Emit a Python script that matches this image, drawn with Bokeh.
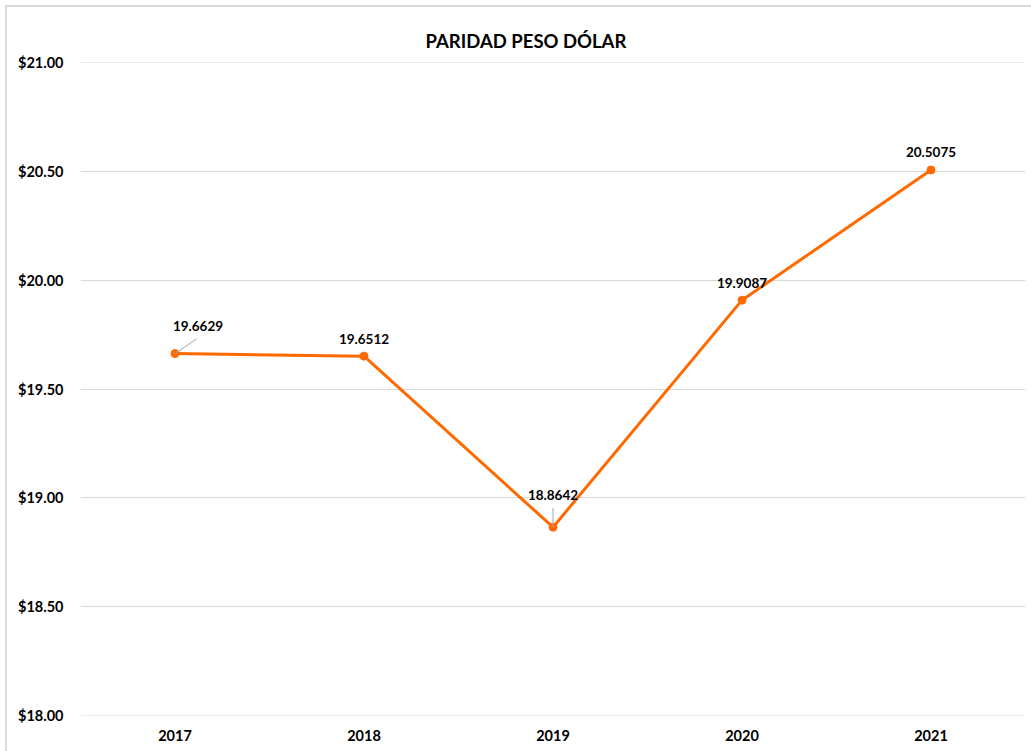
from bokeh.plotting import figure
from bokeh.models import Range1d, FixedTicker, ColumnDataSource
from bokeh.embed import file_html
from bokeh.resources import INLINE
from bokeh.core.properties import value

years = ["2017", "2018", "2019", "2020", "2021"]
rates = [19.6629, 19.6512, 18.8642, 19.9087, 20.5075]
rate_labels = ["19.6629", "19.6512", "18.8642", "19.9087", "20.5075"]
y_ticks = [18.0, 18.5, 19.0, 19.5, 20.0, 20.5, 21.0]

FONT = "Lato"
ORANGE = "#FF6A00"

idx = list(range(len(years)))

p = figure(width=1031, height=751, output_backend="svg", toolbar_location=None,
           x_range=Range1d(-0.5, len(years) - 0.5), y_range=Range1d(17.998, 21.002),
           min_border_left=80, min_border_right=6, min_border_top=62, min_border_bottom=36)

# faint chart border (top and left edges) drawn as page background behind a transparent border area
p.border_fill_alpha = 0
p.styles = {
    "background": "linear-gradient(#d9d9d9, #d9d9d9) 5px 5px / 1026px 2px no-repeat, "
                  "linear-gradient(#d9d9d9, #d9d9d9) 5px 5px / 2px 746px no-repeat, white"
}

p.title.text = "PARIDAD PESO DÓLAR"
p.title.align = "left"
p.title.offset = 345
p.title.standoff = 22
p.title.text_font = FONT
p.title.text_font_size = "18.5px"
p.title.text_font_style = "bold"
p.title.text_color = "#000000"

p.outline_line_color = None
p.background_fill_color = "white"

p.xgrid.grid_line_color = None
p.ygrid.grid_line_color = "#d9d9d9"
p.ygrid.grid_line_width = 1

p.yaxis.ticker = FixedTicker(ticks=y_ticks)
p.yaxis.major_label_overrides = {t: "${:.2f}".format(t) for t in y_ticks}
p.xaxis.ticker = FixedTicker(ticks=idx)
p.xaxis.major_label_overrides = {i: y for i, y in zip(idx, years)}

for ax in (p.xaxis, p.yaxis):
    ax.axis_line_color = None
    ax.major_tick_line_color = None
    ax.minor_tick_line_color = None
    ax.major_tick_out = 0
    ax.major_tick_in = 0
    ax.major_label_text_font = FONT
    ax.major_label_text_font_style = "bold"
    ax.major_label_text_font_size = "14.5px"
    ax.major_label_text_color = "#000000"
p.yaxis.major_label_standoff = 17
p.xaxis.major_label_standoff = 14

src = ColumnDataSource(dict(x=idx, y=rates, lab=rate_labels,
                            xo=[23, 0, 0, 0, 0], yo=[-28, -17, -32, -17, -18]))

p.line("x", "y", source=src, line_color=ORANGE, line_width=3)
p.scatter("x", "y", source=src, size=8, fill_color=ORANGE, line_color=ORANGE)

# leader lines (2017 and 2019)
p.segment(x0=[0, 2], y0=[rates[0], rates[2]],
          x1=[0 + 0.115, 2], y1=[rates[0] + 0.068, rates[2] + 0.088],
          line_color="#a6a6a6", line_width=1)

p.text("x", "y", text="lab", source=src, x_offset="xo", y_offset="yo",
       text_align="center", text_baseline="middle",
       text_font=value(FONT), text_font_style="bold", text_font_size="13.5px",
       text_color="#000000")

open("out.html", "w").write(file_html(p, INLINE))
